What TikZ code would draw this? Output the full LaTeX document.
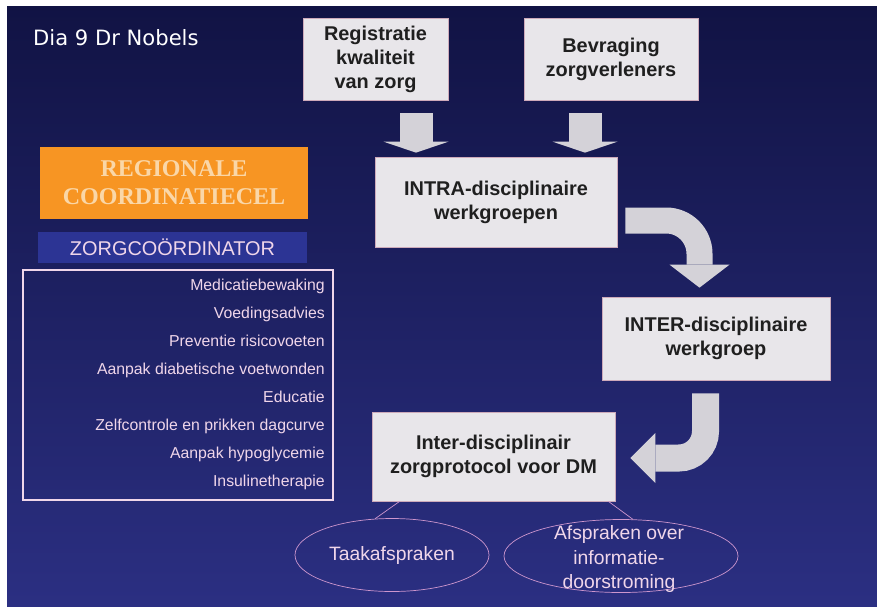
\documentclass[tikz,border=0pt]{standalone}
\usepackage{fontspec}
\setsansfont{Liberation Sans}
\newfontfamily\diafont{DejaVu Sans}
\newfontfamily\celfont{Liberation Serif}
\usepackage{tikz}
\usetikzlibrary{shapes.geometric, arrows.meta}
\usepackage{xcolor}
\definecolor{slidetop}{RGB}{17,19,68}
\definecolor{slidebottom}{RGB}{43,47,130}
\definecolor{boxgray}{RGB}{232,230,234}
\definecolor{boxrim}{RGB}{205,170,186}
\definecolor{arrowgray}{RGB}{212,210,216}
\definecolor{celorange}{RGB}{247,149,35}
\definecolor{celtext}{RGB}{250,215,168}
\definecolor{coordblue}{RGB}{44,52,148}
\definecolor{pinkwhite}{RGB}{240,214,234}
\definecolor{ovalrim}{RGB}{205,150,205}

\begin{document}
\begin{tikzpicture}[x=0.03cm,y=-0.03cm]
						\tikzstyle{box} = [rectangle,fill=boxgray,draw=boxrim,line width=0.6pt,inner sep=0pt,align=center,text=black!88,font=\sffamily\bfseries\fontsize{17}{20.5}\selectfont]
						\tikzstyle{cel} = [rectangle,fill=celorange,inner sep=0pt,align=center,text=celtext,font=\celfont\bfseries\fontsize{20.5}{24}\selectfont]
						\tikzstyle{coord} = [rectangle,fill=coordblue,inner sep=0pt,text=pinkwhite,font=\sffamily\fontsize{17}{20}\selectfont]
						\tikzstyle{frame} = [rectangle,draw=pinkwhite,line width=1.6pt,inner sep=0pt]
						\tikzstyle{task} = [anchor=mid east,inner sep=0pt,text=pinkwhite,font=\sffamily\fontsize{13.5}{15}\selectfont]
						\tikzstyle{oval} = [ellipse,draw=ovalrim,line width=0.6pt,inner sep=0pt]
						\tikzstyle{ovaltext} = [align=center,text=pinkwhite,font=\sffamily\fontsize{16.5}{21}\selectfont]
						\tikzstyle{flow} = [draw=arrowgray,line cap=butt]
						\tikzstyle{edge} = [draw=ovalrim,line width=0.6pt]
						
						\useasboundingbox (0,0) rectangle (877,606);
						\fill[white] (0,0) rectangle (877,606);
						\shade[top color=slidetop,bottom color=slidebottom] (7,6) rectangle (877,606);
						
						\node[anchor=base west,inner sep=0pt,text=white,font=\diafont\fontsize{18}{20}\selectfont] (title) at (33,45) {Dia 9 Dr Nobels};
						
						\node[box,minimum width=4.35cm,minimum height=2.46cm] (reg) at (375.5,59) {Registratie\\kwaliteit\\van zorg};
						\node[box,minimum width=5.22cm,minimum height=2.46cm] (bev) at (611,59) {Bevraging\\zorgverleners};
						\node[box,minimum width=7.26cm,minimum height=2.7cm] (intra) at (496,202) {INTRA-disciplinaire\\werkgroepen};
						\node[box,minimum width=6.84cm,minimum height=2.49cm] (inter) at (716,338.5) {INTER-disciplinaire\\werkgroep};
						\node[box,minimum width=7.29cm,minimum height=2.67cm] (proto) at (493.5,456.5) {Inter-disciplinair\\zorgprotocol voor DM};
						
						\node[cel,minimum width=8.04cm,minimum height=2.16cm] (cel) at (174,183) {REGIONALE\\COORDINATIECEL};
						\node[coord,minimum width=8.07cm,minimum height=0.93cm] (zorg) at (172.5,247.5) {ZORGCOÖRDINATOR};
						\node[frame,minimum width=9.3cm,minimum height=6.9cm] (lijst) at (178,385) {};
						\node[task] (t1) at (325,288) {Medicatiebewaking};
						\node[task] (t2) at (325,316) {Voedingsadvies};
						\node[task] (t3) at (325,344) {Preventie risicovoeten};
						\node[task] (t4) at (325,372) {Aanpak diabetische voetwonden};
						\node[task] (t5) at (325,400) {Educatie};
						\node[task] (t6) at (325,428) {Zelfcontrole en prikken dagcurve};
						\node[task] (t7) at (325,456) {Aanpak hypoglycemie};
						\node[task] (t8) at (325,484) {Insulinetherapie};
						
						\node[oval,minimum width=5.82cm,minimum height=2.19cm] (taak) at (392,555) {};
						\node[ovaltext] at (taak) {Taakafspraken};
						\node[oval,minimum width=7.02cm,minimum height=2.19cm] (afspr) at (621,556) {};
						\node[ovaltext] at (619,559) {Afspraken over\\informatie-\\doorstroming};
						
						\draw[flow,line width=0.99cm,-{Triangle[width=1.95cm,length=0.33cm,line width=0pt]}] ([shift={(40.5,13)}]reg.south) -- ([shift={(-80,-4)}]intra.north);
						\draw[flow,line width=0.99cm,-{Triangle[width=1.95cm,length=0.33cm,line width=0pt]}] ([shift={(-26,13)}]bev.south) -- ([shift={(89,-4)}]intra.north);
						\draw[flow,line width=0.78cm,rounded corners=1cm,-{Triangle[width=1.8cm,length=0.69cm,line width=0pt]}] ([shift={(8,18.5)}]intra.east) -| ([shift={(-16.5,-9)}]inter.north);
						\draw[flow,line width=0.81cm,rounded corners=0.8cm,-{Triangle[width=1.5cm,length=0.75cm,line width=0pt]}] ([shift={(-10.5,13)}]inter.south) |- ([shift={(15,1.5)}]proto.east);
						
						\draw[edge] ([xshift=0.84cm]proto.south west) -- (taak.115);
						\draw[edge] ([xshift=-0.21cm]proto.south east) -- (afspr.72);
						\end{tikzpicture}
\end{document}
